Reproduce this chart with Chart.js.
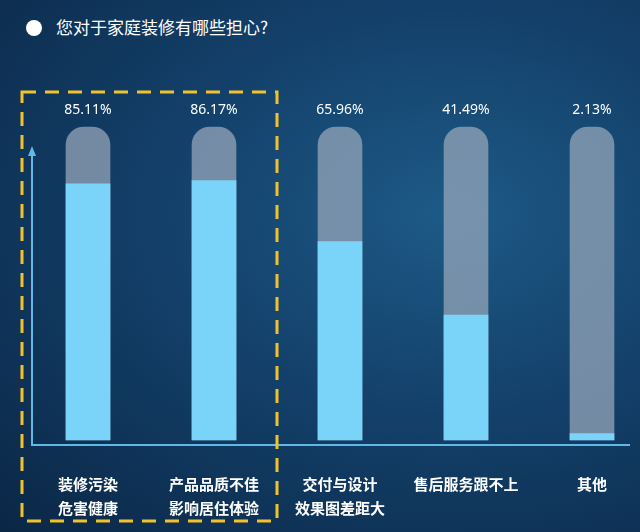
<!DOCTYPE html>
<html><head><meta charset="utf-8">
<script src="https://cdn.jsdelivr.net/npm/chart.js"></script>
<style>
html,body{margin:0;padding:0;}
body{width:640px;height:532px;background:radial-gradient(ellipse at 70% 40%,#1d5a86 0%,#13406a 45%,#0b2746 100%);font-family:"Noto Sans CJK SC","Noto Sans",sans-serif;position:relative;overflow:hidden}
#t{position:absolute;left:26px;top:14px;color:#fff;font-size:17px;}
#t span{display:inline-block;width:16px;height:16px;border-radius:50%;background:#fff;vertical-align:-2px;margin-right:14px}
#c{position:absolute;left:0;top:0}
</style></head><body>
<div id="t"><span></span>您对于家庭装修有哪些担心?</div>
<canvas id="c" width="640" height="532"></canvas>
<script>
const categories=[["装修污染","危害健康"],["产品品质不佳","影响居住体验"],["交付与设计","效果图差距大"],["售后服务跟不上",""],["其他",""]];
const values=[85.11,86.17,65.96,41.49,2.13];
const trackValues=[104,104,104,104,104];
const deco={id:'deco',afterDraw(ch){
 const c=ch.ctx,xs=ch.scales.x;
 c.save();
 c.strokeStyle='#5fb8e6';c.lineWidth=2;
 c.beginPath();c.moveTo(32,152);c.lineTo(32,445);c.lineTo(630,445);c.stroke();
 c.fillStyle='#5fb8e6';c.beginPath();c.moveTo(32,146);c.lineTo(28,156);c.lineTo(36,156);c.fill();
 c.fillStyle='#fff';c.textAlign='center';
 c.font='14px "Noto Sans","Noto Sans CJK SC"';
 values.forEach((v,i)=>{const x=xs.getPixelForValue(i);c.fillText(v.toFixed(2)+'%',x,114);});
 c.font='bold 15px "Noto Sans CJK SC"';
 categories.forEach((l,i)=>{const x=xs.getPixelForValue(i);c.fillText(l[0],x,490);if(l[1])c.fillText(l[1],x,514);});
 c.strokeStyle='#f2c12e';c.lineWidth=3;c.setLineDash([14,9]);
 c.strokeRect(22,92,255,429);
 c.restore();
}};
new Chart(document.getElementById('c'),{type:'bar',
data:{labels:categories.map(l=>l.join('')),datasets:[
 {data:values,backgroundColor:'#7ad4fa',barThickness:44,grouped:false,order:0,clip:false},
 {data:trackValues,backgroundColor:'rgba(150,165,185,0.75)',barThickness:44,grouped:false,order:1,clip:false,borderRadius:{topLeft:18,topRight:18},borderSkipped:'bottom'}
]},
options:{responsive:false,animation:false,events:[],
 layout:{padding:{left:88,right:48,top:139,bottom:92}},
 plugins:{legend:{display:false},tooltip:{enabled:false}},
 scales:{x:{display:false,offset:false},y:{display:false,min:0,max:100}}},
plugins:[deco]});
</script></body></html>
